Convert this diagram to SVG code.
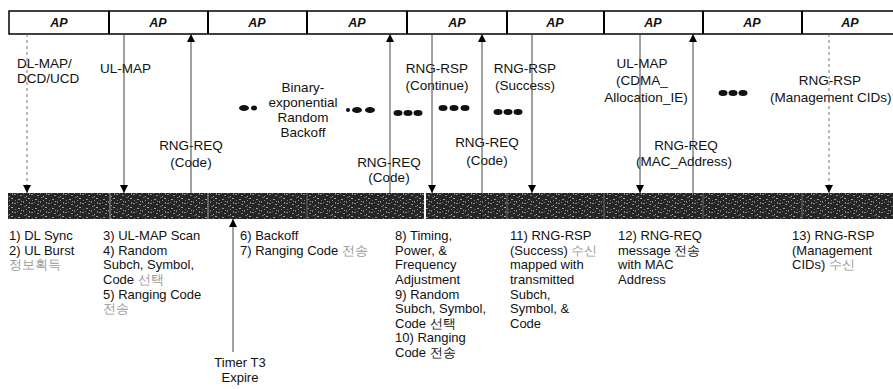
<svg xmlns="http://www.w3.org/2000/svg" width="893" height="389" viewBox="0 0 893 389">
<style>
text{font-family:"Liberation Sans",Arial,sans-serif;font-size:13px;fill:#111}
.ap{font-weight:bold;font-style:italic;font-size:12.5px;text-anchor:middle}
.c{text-anchor:middle}
.t{font-size:13.5px}
.kf{fill:#9a9a9a}
.ln{stroke:#444;stroke-width:1;fill:none}
.dn{marker-end:url(#ah)}
.dash{stroke-dasharray:3 3;stroke:#777}
.dv{stroke:#000;stroke-width:2}
.dot{fill:#111}
</style>
<defs>
<marker id="ah" viewBox="0 0 8 10" refX="8" refY="5" markerWidth="8" markerHeight="10" markerUnits="userSpaceOnUse" orient="auto">
<path d="M0,1 L8,5 L0,9 Z" fill="#000"/>
</marker>
<pattern id="tex" width="17" height="9" patternUnits="userSpaceOnUse">
<rect width="17" height="9" fill="#262626"/>
<rect x="1" y="1" width="2" height="1" fill="#9a9a9a"/>
<rect x="6" y="3" width="1" height="2" fill="#7f7f7f"/>
<rect x="11" y="0" width="2" height="1" fill="#a5a5a5"/>
<rect x="14" y="5" width="2" height="1" fill="#8a8a8a"/>
<rect x="3" y="6" width="2" height="1" fill="#888"/>
<rect x="9" y="7" width="1" height="1" fill="#aaa"/>
<rect x="15" y="2" width="1" height="1" fill="#777"/>
<rect x="7" y="8" width="2" height="1" fill="#6a6a6a"/>
<rect x="4" y="3" width="1" height="1" fill="#999"/>
<rect x="12" y="4" width="1" height="2" fill="#888"/>
<rect x="0" y="4" width="1" height="1" fill="#777"/>
<rect x="9" y="2" width="1" height="1" fill="#8f8f8f"/>
</pattern>
</defs>

<g id="ap-bar">
<rect x="9" y="11" width="890" height="23" fill="#fff" stroke="#000" stroke-width="1.5"/>
<line class="dv" x1="109" y1="11" x2="109" y2="34"/>
<line class="dv" x1="208" y1="11" x2="208" y2="34"/>
<line class="dv" x1="307" y1="11" x2="307" y2="34"/>
<line class="dv" x1="407" y1="11" x2="407" y2="34"/>
<line class="dv" x1="507" y1="11" x2="507" y2="34"/>
<line class="dv" x1="604" y1="11" x2="604" y2="34"/>
<line class="dv" x1="703" y1="11" x2="703" y2="34"/>
<line class="dv" x1="802" y1="11" x2="802" y2="34"/>
<text class="ap" x="59" y="27">AP</text>
<text class="ap" x="158" y="27">AP</text>
<text class="ap" x="257" y="27">AP</text>
<text class="ap" x="357" y="27">AP</text>
<text class="ap" x="457" y="27">AP</text>
<text class="ap" x="555" y="27">AP</text>
<text class="ap" x="653" y="27">AP</text>
<text class="ap" x="752" y="27">AP</text>
<text class="ap" x="850" y="27">AP</text>
</g>

<g id="ms-bar">
<rect x="8" y="193" width="890" height="26" fill="url(#tex)"/>
<line x1="110" y1="193" x2="110" y2="219" stroke="#777" stroke-width="1.5"/>
<line x1="208" y1="193" x2="208" y2="219" stroke="#777" stroke-width="1.5"/>
<line x1="307" y1="193" x2="307" y2="219" stroke="#555" stroke-width="1.5"/>
<line x1="425" y1="193" x2="425" y2="219" stroke="#fff" stroke-width="2"/>
<line x1="507" y1="193" x2="507" y2="219" stroke="#555" stroke-width="1.5"/>
<line x1="604" y1="193" x2="604" y2="219" stroke="#555" stroke-width="1.5"/>
<line x1="703" y1="193" x2="703" y2="219" stroke="#555" stroke-width="1.5"/>
<line x1="802" y1="193" x2="802" y2="219" stroke="#555" stroke-width="1.5"/>
</g>

<g id="labels-top">
<text class="t" x="17" y="68">DL-MAP/</text>
<text class="t" x="17" y="83">DCD/UCD</text>
<text class="t" x="100" y="73">UL-MAP</text>
<text class="c t" x="191" y="150">RNG-REQ</text>
<text class="c t" x="191" y="167">(Code)</text>
<text class="c t" x="303" y="92">Binary-</text>
<text class="c t" x="303" y="107">exponential</text>
<text class="c t" x="303" y="122">Random</text>
<text class="c t" x="303" y="137">Backoff</text>
<text class="c t" x="389" y="167">RNG-REQ</text>
<text class="c t" x="389" y="182">(Code)</text>
<text class="c t" x="437" y="73">RNG-RSP</text>
<text class="c t" x="437" y="90">(Continue)</text>
<text class="c t" x="487" y="147">RNG-REQ</text>
<text class="c t" x="487" y="165">(Code)</text>
<text class="c t" x="525" y="73">RNG-RSP</text>
<text class="c t" x="525" y="90">(Success)</text>
<text class="c t" x="642" y="68">UL-MAP</text>
<text class="c t" x="642" y="85">(CDMA_</text>
<text class="c t" x="646" y="102">Allocation_IE)</text>
<text class="c t" x="686" y="150">RNG-REQ</text>
<text class="c t" x="684" y="166">(MAC_Address)</text>
<text class="c t" x="830" y="85">RNG-RSP</text>
<text class="t" x="770" y="102">(Management CIDs)</text>
</g>

<g id="ellipses">
<ellipse class="dot" cx="244" cy="108" rx="5" ry="3"/>
<ellipse class="dot" cx="254" cy="108" rx="3" ry="2.5"/>
<ellipse class="dot" cx="348" cy="110" rx="2" ry="2"/>
<ellipse class="dot" cx="357" cy="110" rx="5" ry="3"/>
<ellipse class="dot" cx="370" cy="110" rx="5" ry="3"/>
<ellipse class="dot" cx="398" cy="113" rx="4.5" ry="3"/>
<ellipse class="dot" cx="408" cy="113" rx="4.5" ry="3"/>
<ellipse class="dot" cx="418" cy="113" rx="4.5" ry="3"/>
<ellipse class="dot" cx="443" cy="108" rx="4.5" ry="3"/>
<ellipse class="dot" cx="454" cy="108" rx="4.5" ry="3"/>
<ellipse class="dot" cx="465" cy="108" rx="4.5" ry="3"/>
<ellipse class="dot" cx="498" cy="112" rx="4.5" ry="3"/>
<ellipse class="dot" cx="508" cy="112" rx="4.5" ry="3"/>
<ellipse class="dot" cx="518" cy="112" rx="4.5" ry="3"/>
<ellipse class="dot" cx="723" cy="93" rx="4.5" ry="3"/>
<ellipse class="dot" cx="733" cy="93" rx="4.5" ry="3"/>
<ellipse class="dot" cx="743" cy="93" rx="4.5" ry="3"/>
</g>

<g id="connectors">
<line class="ln dn dash" x1="27" y1="34" x2="27" y2="193"/>
<line class="ln dn" x1="124" y1="34" x2="124" y2="193"/>
<line class="ln dn" x1="191" y1="193" x2="191" y2="34"/>
<line class="ln dn" x1="390" y1="193" x2="390" y2="34"/>
<line class="ln dn" x1="432" y1="34" x2="432" y2="193"/>
<line class="ln dn" x1="482" y1="193" x2="482" y2="34"/>
<line class="ln dn" x1="532" y1="34" x2="532" y2="193"/>
<line class="ln dn" x1="640" y1="34" x2="640" y2="193"/>
<line class="ln dn" x1="693" y1="193" x2="693" y2="34"/>
<line class="ln dn dash" x1="829" y1="34" x2="829" y2="193"/>
<line class="ln dn" x1="233" y1="352" x2="233" y2="219"/>
</g>

<g id="steps">
<text x="9" y="240">1) DL Sync</text>
<text x="9" y="255">2) UL Burst</text>
<text class="kf" x="9" y="269">정보획득</text>

<text x="103" y="240">3) UL-MAP Scan</text>
<text x="103" y="255">4) Random</text>
<text x="103" y="269">Subch, Symbol,</text>
<text x="103" y="284">Code <tspan class="kf">선택</tspan></text>
<text x="103" y="299">5) Ranging Code</text>
<text class="kf" x="103" y="313">전송</text>

<text x="240" y="240">6) Backoff</text>
<text x="240" y="255">7) Ranging Code <tspan class="kf">전송</tspan></text>
<text class="c" x="240" y="367">Timer T3</text>
<text class="c" x="240" y="382">Expire</text>

<text x="395" y="240">8) Timing,</text>
<text x="395" y="255">Power, &amp;</text>
<text x="395" y="269">Frequency</text>
<text x="395" y="284">Adjustment</text>
<text x="395" y="299">9) Random</text>
<text x="395" y="313">Subch, Symbol,</text>
<text x="395" y="328">Code 선택</text>
<text x="395" y="342">10) Ranging</text>
<text x="395" y="357">Code 전송</text>

<text x="510" y="240">11) RNG-RSP</text>
<text x="510" y="255">(Success) <tspan class="kf">수신</tspan></text>
<text x="510" y="269">mapped with</text>
<text x="510" y="284">transmitted</text>
<text x="510" y="299">Subch,</text>
<text x="510" y="313">Symbol, &amp;</text>
<text x="510" y="328">Code</text>

<text x="618" y="240">12) RNG-REQ</text>
<text x="618" y="255">message 전송</text>
<text x="618" y="269">with MAC</text>
<text x="618" y="284">Address</text>

<text x="792" y="240">13) RNG-RSP</text>
<text x="792" y="255">(Management</text>
<text x="792" y="269">CIDs) <tspan class="kf">수신</tspan></text>
</g>
</svg>
